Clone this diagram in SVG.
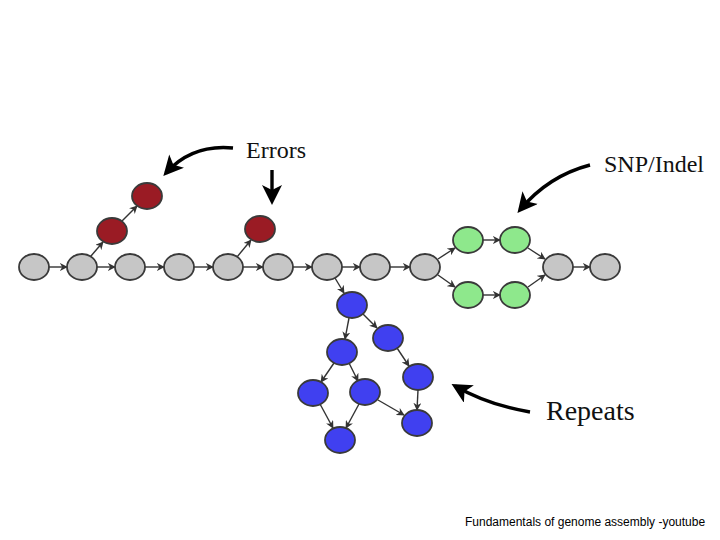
<svg xmlns="http://www.w3.org/2000/svg" width="720" height="540" viewBox="0 0 720 540">
<style>
.n{stroke:#3a3a3a;stroke-width:1.8}
.g{fill:#c6c6c6}
.r{fill:#9a1b24}
.gr{fill:#8ee88c}
.b{fill:#4040f0}
.e{stroke:#333;stroke-width:1.4;fill:none;marker-end:url(#ah)}
.big{stroke:#000;stroke-width:3.4;fill:none;marker-end:url(#bh)}
.lbl{font-family:"Liberation Serif","Times New Roman",serif;fill:#111}
</style>
<defs>
<marker id="ah" viewBox="0 0 10 10" refX="9" refY="5" markerWidth="8" markerHeight="8" markerUnits="userSpaceOnUse" orient="auto">
<path d="M0,0 L10,5 L0,10 L3,5 Z" fill="#333"/>
</marker>
<marker id="bh" viewBox="0 0 10 10" refX="8" refY="5" markerWidth="22" markerHeight="20" markerUnits="userSpaceOnUse" orient="auto">
<path d="M0,0 L10,5 L0,10 L2.5,5 Z" fill="#000"/>
</marker>
</defs>
<rect width="720" height="540" fill="#fff"/>
<g id="connectors">
<line class="e" x1="49" y1="267" x2="67" y2="267"/>
<line class="e" x1="97" y1="267" x2="115" y2="267"/>
<line class="e" x1="145" y1="267" x2="164" y2="267"/>
<line class="e" x1="194" y1="267" x2="213" y2="267"/>
<line class="e" x1="243" y1="267" x2="263" y2="267"/>
<line class="e" x1="293" y1="267" x2="312" y2="267"/>
<line class="e" x1="342" y1="267" x2="360" y2="267"/>
<line class="e" x1="390" y1="267" x2="410" y2="267"/>
<line class="e" x1="91" y1="256" x2="103" y2="242"/>
<line class="e" x1="122" y1="221" x2="137" y2="206"/>
<line class="e" x1="237" y1="257" x2="251" y2="240"/>
<line class="e" x1="438" y1="259" x2="455" y2="248"/>
<line class="e" x1="438" y1="275" x2="455" y2="287"/>
<line class="e" x1="483" y1="240" x2="500" y2="240"/>
<line class="e" x1="483" y1="295" x2="500" y2="295"/>
<line class="e" x1="528" y1="248" x2="545" y2="259"/>
<line class="e" x1="528" y1="287" x2="545" y2="275"/>
<line class="e" x1="573" y1="267" x2="590" y2="267"/>
<line class="e" x1="335" y1="278" x2="344" y2="293"/>
<line class="e" x1="349" y1="318" x2="345" y2="339"/>
<line class="e" x1="363" y1="314" x2="377" y2="328"/>
<line class="e" x1="397" y1="348" x2="409" y2="366"/>
<line class="e" x1="334" y1="363" x2="321" y2="382"/>
<line class="e" x1="349" y1="363" x2="358" y2="381"/>
<line class="e" x1="320" y1="404" x2="333" y2="428"/>
<line class="e" x1="359" y1="404" x2="346" y2="428"/>
<line class="e" x1="378" y1="400" x2="404" y2="415"/>
<line class="e" x1="418" y1="390" x2="417" y2="410"/>
<path class="big" d="M233,148 Q192,144 166,173"/>
<line class="big" x1="272" y1="170" x2="272" y2="201"/>
<path class="big" d="M590,165 Q548,176 520,210"/>
<path class="big" d="M530,412 Q488,405 455,386"/>
</g>
<g id="main-chain">
<ellipse id="g1" class="n g" cx="34" cy="267" rx="15" ry="13"/>
<ellipse id="g2" class="n g" cx="82" cy="267" rx="15" ry="13"/>
<ellipse id="g3" class="n g" cx="130" cy="267" rx="15" ry="13"/>
<ellipse id="g4" class="n g" cx="179" cy="267" rx="15" ry="13"/>
<ellipse id="g5" class="n g" cx="228" cy="267" rx="15" ry="13"/>
<ellipse id="g6" class="n g" cx="278" cy="267" rx="15" ry="13"/>
<ellipse id="g7" class="n g" cx="327" cy="267" rx="15" ry="13"/>
<ellipse id="g8" class="n g" cx="375" cy="267" rx="15" ry="13"/>
<ellipse id="g9" class="n g" cx="425" cy="267" rx="15" ry="13"/>
<ellipse id="g10" class="n g" cx="558" cy="267" rx="15" ry="13"/>
<ellipse id="g11" class="n g" cx="605" cy="267" rx="15" ry="13"/>
</g>
<g id="errors">
<ellipse id="r1" class="n r" cx="112" cy="231" rx="15" ry="13"/>
<ellipse id="r2" class="n r" cx="147" cy="196" rx="15" ry="13"/>
<ellipse id="r3" class="n r" cx="260" cy="229" rx="15" ry="13"/>
</g>
<g id="snp">
<ellipse id="s1" class="n gr" cx="468" cy="240" rx="15" ry="13"/>
<ellipse id="s2" class="n gr" cx="515" cy="240" rx="15" ry="13"/>
<ellipse id="s3" class="n gr" cx="468" cy="295" rx="15" ry="13"/>
<ellipse id="s4" class="n gr" cx="515" cy="295" rx="15" ry="13"/>
</g>
<g id="repeats">
<ellipse id="b1" class="n b" cx="352" cy="305" rx="15" ry="13"/>
<ellipse id="b2" class="n b" cx="388" cy="338" rx="15" ry="13"/>
<ellipse id="b3" class="n b" cx="342" cy="352" rx="15" ry="13"/>
<ellipse id="b4" class="n b" cx="418" cy="377" rx="15" ry="13"/>
<ellipse id="b5" class="n b" cx="313" cy="393" rx="15" ry="13"/>
<ellipse id="b6" class="n b" cx="365" cy="392" rx="15" ry="13"/>
<ellipse id="b7" class="n b" cx="417" cy="423" rx="15" ry="13"/>
<ellipse id="b8" class="n b" cx="340" cy="440" rx="15" ry="13"/>
</g>
<g id="labels">
<text class="lbl" x="246" y="158" font-size="24">Errors</text>
<text class="lbl" x="604" y="172" font-size="24">SNP/Indel</text>
<text class="lbl" x="546" y="420" font-size="28">Repeats</text>
<text x="465" y="526" font-size="12" font-family="Liberation Sans, Arial, sans-serif" fill="#000">Fundamentals of genome assembly -youtube</text>
</g>
</svg>
